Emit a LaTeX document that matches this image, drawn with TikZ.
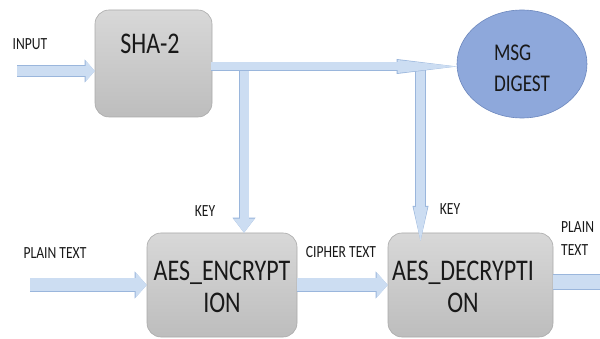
\documentclass[tikz,border=0pt]{standalone}
\usepackage{fontspec}
\setmainfont{Carlito}[FakeStretch=0.8]
\usetikzlibrary{arrows.meta,shapes.geometric}
\definecolor{boxtop}{HTML}{D8D8D8}
\definecolor{boxbot}{HTML}{BDBDBD}
\definecolor{boxline}{HTML}{AAAAAA}
\definecolor{ellfill}{HTML}{8EA8DB}
\definecolor{ellline}{HTML}{6C87BD}
\definecolor{arrowfill}{HTML}{CCDDF2}
\definecolor{arrowline}{HTML}{9AB6DC}
\tikzset{
  box/.style={draw=boxline, line width=0.6pt, rounded corners=14pt, top color=boxtop, bottom color=boxbot},
  bigtxt/.style={font=\fontsize{30}{32}\selectfont, align=center, inner sep=0pt, text=black!90},
  midtxt/.style={font=\fontsize{24}{31}\selectfont, align=left, inner sep=0pt, text=black!90},
  smalltxt/.style={font=\fontsize{17}{23}\selectfont, inner sep=0pt, text=black!90},
  blockarrow/.style n args={6}{line width=#1, draw=arrowfill,
     -{Triangle[length=#3,width=#2,line width=0pt]},
     preaction={draw=arrowline, line width=#4, -{Triangle[length=#6,width=#5,line width=0pt]}}},
  plainblock/.style n args={2}{line width=#1, draw=arrowfill,
     preaction={draw=arrowline, line width=#2}}
}
\begin{document}
\begin{tikzpicture}[x=1pt,y=-1pt]
\useasboundingbox (0,0) rectangle (600,339);
% boxes
\node[box, minimum width=117pt, minimum height=107pt] (sha) at (153.5,63.5) {};
\node[box, minimum width=150pt, minimum height=104pt] (enc) at (222,285) {};
\node[box, minimum width=165pt, minimum height=104pt] (dec) at (470.5,285) {};
\node[ellipse, draw=ellline, line width=0.6pt, fill=ellfill, minimum width=130pt, minimum height=108pt] (ell) at (522,64) {};
% texts in shapes
\node[bigtxt] (shatxt) at (150,44) {SHA-2};
\node[bigtxt] (enctxt) at (222,287) {AES\_ENCRYPT\\ION};
\node[bigtxt] (dectxt) at (463,287) {AES\_DECRYPTI\\ON};
\node[midtxt] (elltxt) at (522,68) {MSG\\DIGEST};
% labels
\node[smalltxt] (inlbl) at (30,44) {INPUT};
\node[smalltxt] (key1) at (205,211) {KEY};
\node[smalltxt] (key2) at (450,209) {KEY};
\node[smalltxt] (ptlbl) at (55,253) {PLAIN TEXT};
\node[smalltxt] (ctlbl) at (341,252) {CIPHER TEXT};
\node[smalltxt, align=left, anchor=west] (pt2lbl) at (561,239) {PLAIN\\TEXT};
% coordinates
\coordinate (inS) at (17,71);
\coordinate (hS) at (211,66.5);
\coordinate (v1) at (244,70);
\coordinate (v2) at (420.5,70);
\coordinate (v2e) at (420.5,241);
\coordinate (ptS) at (30,285);
\coordinate (outE) at (600,282);
% branch arrows
\draw[blockarrow={9pt}{21pt}{14pt}{10.5pt}{23pt}{15pt}] (v1) -- (v1 |- enc.north);
\draw[blockarrow={9pt}{14pt}{34pt}{10.5pt}{16pt}{35pt}] (v2) -- (v2e);
% main horizontal
\draw[blockarrow={8pt}{13pt}{59pt}{9.5pt}{15pt}{60pt}] (hS) -- (hS -| ell.west);
% input
\draw[blockarrow={10.5pt}{21pt}{9pt}{12pt}{23pt}{10pt}] (inS) -- (inS -| sha.west);
% bottom
\draw[blockarrow={13pt}{25pt}{11pt}{14.5pt}{27pt}{12pt}] (ptS) -- (ptS -| enc.west);
\draw[blockarrow={13pt}{25pt}{11pt}{14.5pt}{27pt}{12pt}] (enc.east |- ptS) -- (dec.west |- ptS);
\draw[plainblock={14pt}{15.5pt}] (dec.east |- outE) -- (outE);
\end{tikzpicture}
\end{document}
